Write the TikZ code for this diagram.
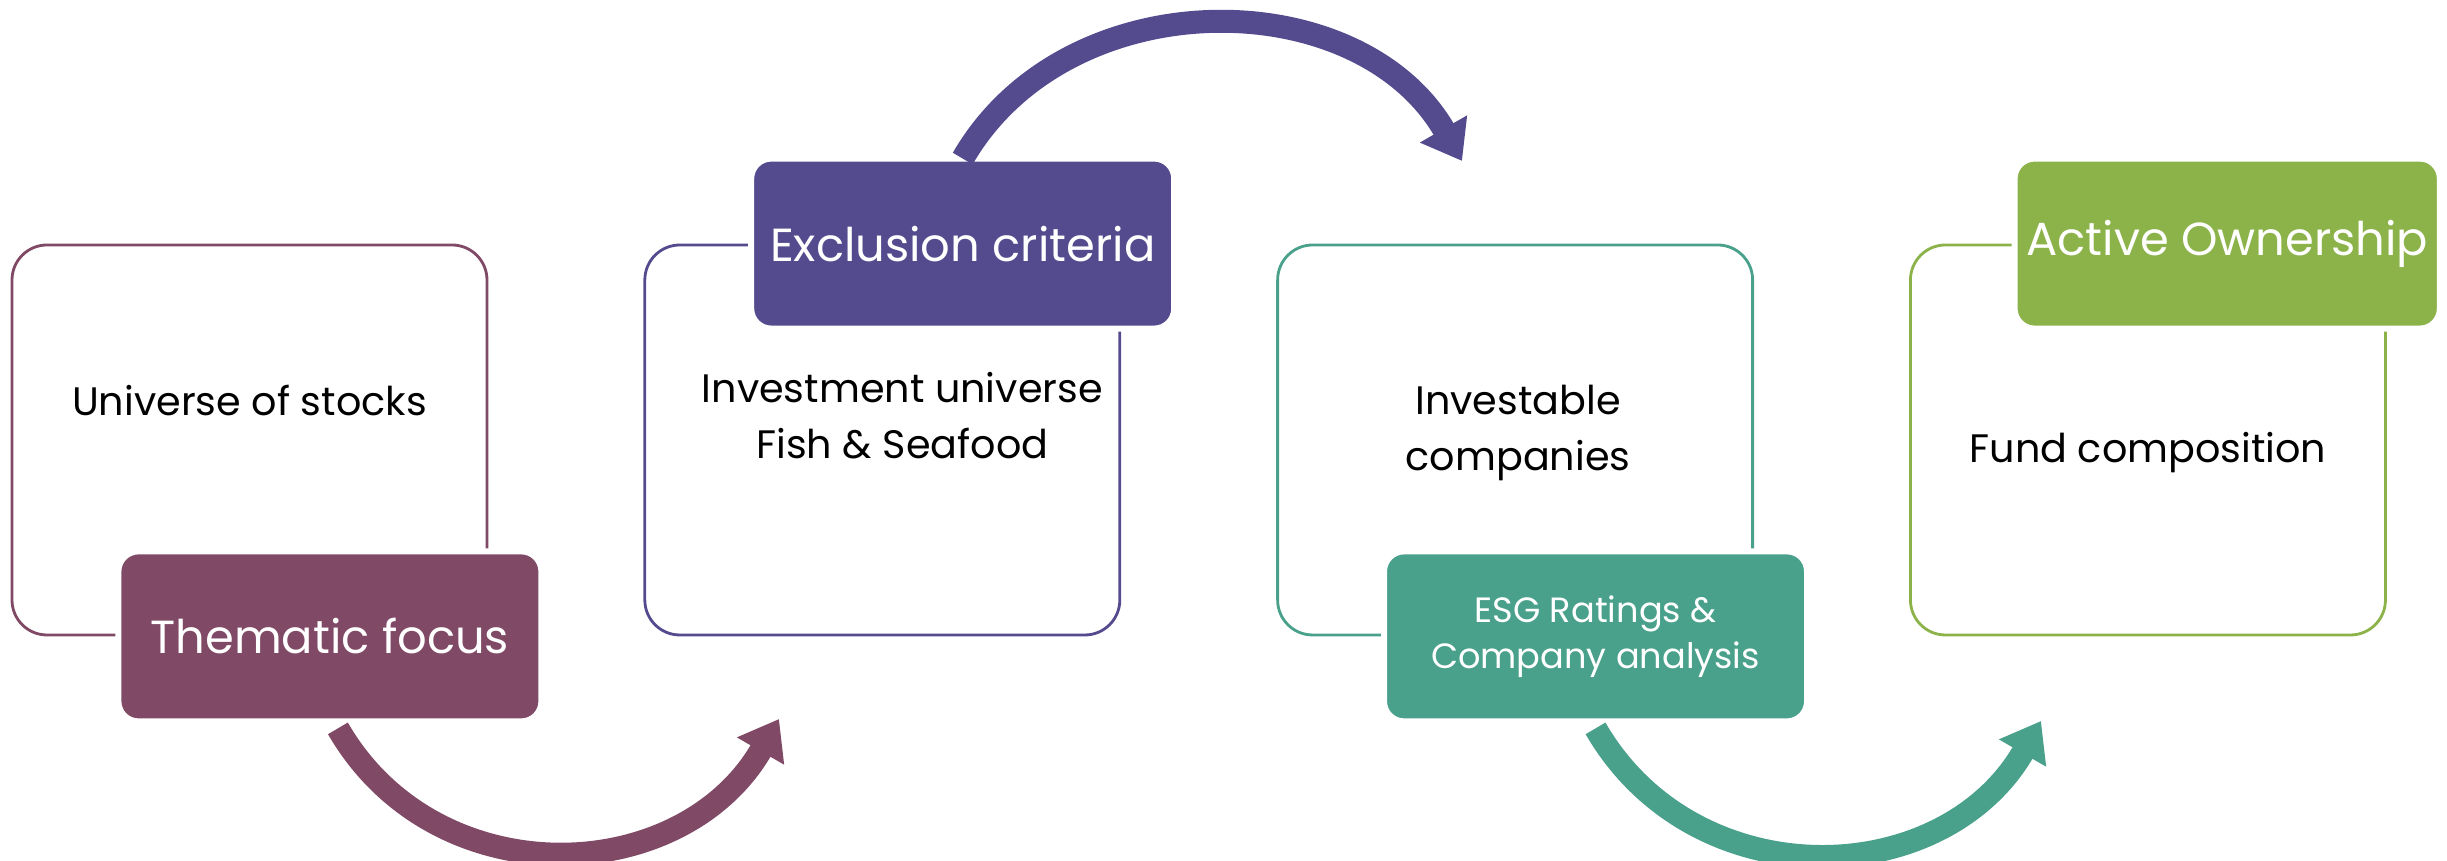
\documentclass[tikz,border=0pt]{standalone}
\usepackage{fontspec}
\setmainfont{Poppins}
\usetikzlibrary{positioning,arrows.meta}

\definecolor{themecol}{RGB}{128,73,101}
\definecolor{exclcol}{RGB}{84,75,143}
\definecolor{esgcol}{RGB}{73,160,139}
\definecolor{owncol}{RGB}{140,178,74}

\tikzset{
  stage/.style={draw=#1, line width=0.8pt, rounded corners=0.35cm,
    minimum width=4.75cm, minimum height=3.9cm},
  tag/.style={fill=#1, draw=white, line width=0.6mm, rounded corners=0.2cm,
    minimum width=4.23cm, minimum height=1.70cm, text=white, align=center},
  body/.style={align=center, font=\fontsize{11.3}{16}\selectfont},
  flow/.style={draw=#1, line width=0.23cm, looseness=1.13,
    -{Triangle[length=3.7mm,width=5.2mm]}},
}

\begin{document}
\begin{tikzpicture}
\useasboundingbox (0,0) rectangle (24.47,8.61);

\node[stage=themecol] (u) at (2.495,4.21) {};
\node[stage=exclcol, right=1.55cm of u] (iu) {};
\node[stage=esgcol, right=1.55cm of iu] (ic) {};
\node[stage=owncol, right=1.55cm of ic] (fc) {};

\node[body] (ut) at ([yshift=3.9mm]u.center) {Universe of stocks};
\node[body] (iut) at ([xshift=2mm,yshift=2.4mm]iu.center) {Investment universe\\Fish \& Seafood};
\node[body] (ict) at ([xshift=0.3mm,yshift=0.7mm]ic.center) {Investable\\companies};
\node[body] (fct) at ([yshift=-1.3mm]fc.center) {Fund composition};

\node[tag=themecol, anchor=east, font=\fontsize{13.2}{16}\selectfont] (tf) at ([xshift=5.6mm]u.south east) {Thematic focus};
\node[tag=exclcol, anchor=east, font=\fontsize{13.2}{16}\selectfont] (ex) at ([xshift=5.6mm]iu.north east) {Exclusion criteria};
\node[tag=esgcol, anchor=east, font=\fontsize{10}{13}\selectfont] (esg) at ([xshift=5.6mm]ic.south east) {ESG Ratings \&\\Company analysis};
\node[tag=owncol, anchor=east, font=\fontsize{13.2}{16}\selectfont] (ao) at ([xshift=5.6mm]fc.north east) {Active Ownership};

\coordinate (t1) at (7.79,1.42);
\coordinate (t2) at (14.62,7.0);
\coordinate (t3) at (20.41,1.40);

\draw[flow=themecol] ([xshift=0.8mm,yshift=-0.4mm]tf.south) to[out=-60,in=-120] (t1);
\draw[flow=exclcol, looseness=1.06] ([yshift=-0.3mm]ex.north) to[out=60,in=120] (t2);
\draw[flow=esgcol] ([yshift=-0.4mm]esg.south) to[out=-60,in=-120] (t3);

\end{tikzpicture}
\end{document}
